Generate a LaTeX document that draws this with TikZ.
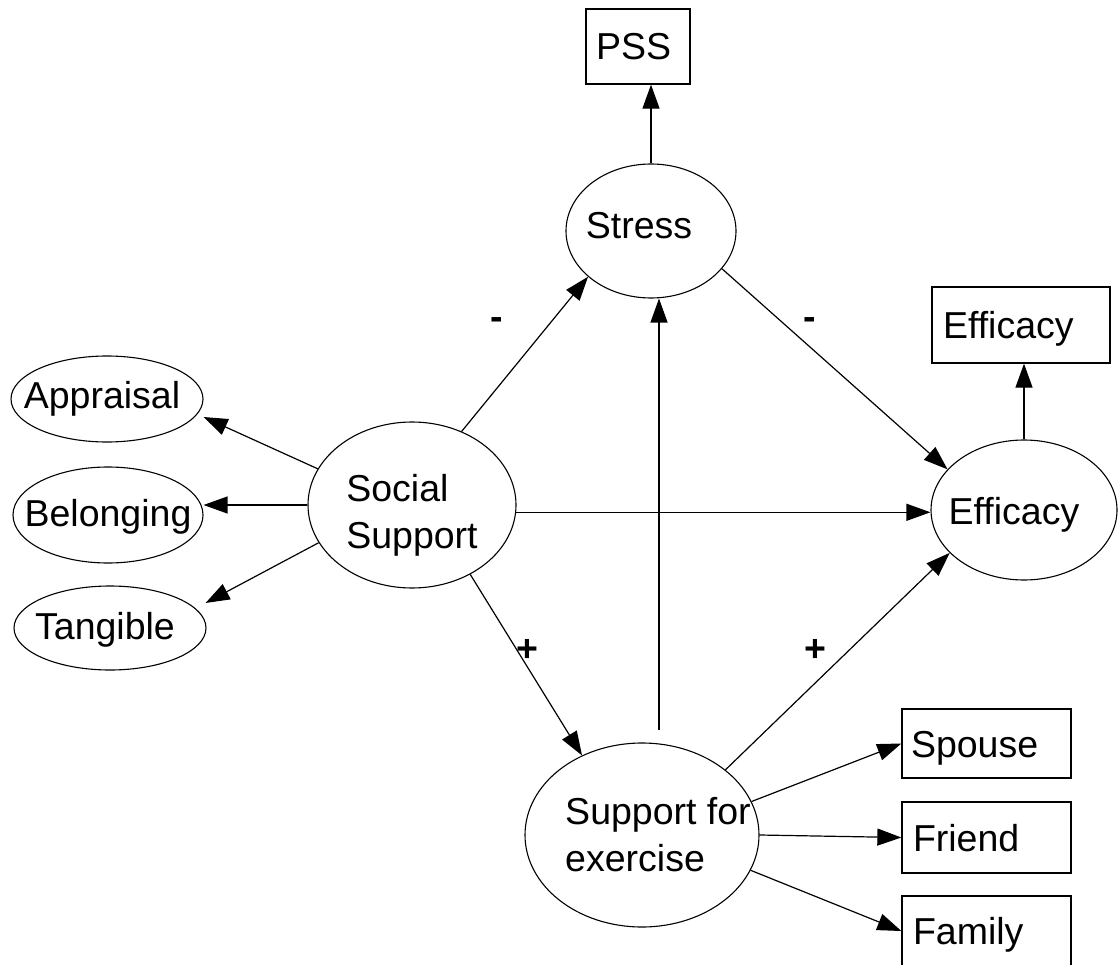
\documentclass[tikz,border=0pt]{standalone}
\usepackage{fontspec}
\setmainfont{Liberation Sans}
\usetikzlibrary{shapes.geometric,arrows.meta,calc}
\begin{document}
\begin{tikzpicture}[x=1pt,y=-1pt,
  txt/.style={font=\fontsize{37.5}{47}\selectfont},
  latent/.style={ellipse,draw,line width=1.1pt,inner sep=0pt},
  observed/.style={rectangle,draw,line width=1.3pt,txt,align=left,
    text height=27pt,text depth=0pt},
  arr/.style={-{Triangle[length=24pt,width=17pt]},line width=1.2pt},
  sign/.style={font=\fontsize{37.5}{47}\selectfont\bfseries,inner sep=0pt}]
\useasboundingbox (0,0) rectangle (1118,965);

% latent variables (ellipses) with their captions set as centre labels
\node[latent,minimum width=208pt,minimum height=166pt,
  label={[txt,align=left,inner sep=0pt,yshift=-10pt]center:{Social\\Support}}] (ss) at (412,505) {};
\node[latent,minimum width=170pt,minimum height=134pt,
  label={[txt,inner sep=0pt,xshift=-12pt,yshift=5pt]center:Stress}] (stress) at (651,231) {};
\node[latent,minimum width=186pt,minimum height=140pt,
  label={[txt,inner sep=0pt,xshift=-10pt,yshift=-5pt]center:Efficacy}] (eff) at (1024,510) {};
\node[latent,minimum width=234pt,minimum height=184pt,
  label={[txt,align=left,inner sep=0pt,xshift=16pt]center:{Support for\\exercise}}] (sup) at (642,835) {};
\node[latent,minimum width=192pt,minimum height=86pt,
  label={[txt,inner sep=0pt,xshift=-5pt]center:Appraisal}] (app) at (107,399) {};
\node[latent,minimum width=190pt,minimum height=96pt,
  label={[txt,inner sep=0pt,yshift=-2pt]center:Belonging}] (bel) at (108,515) {};
\node[latent,minimum width=192pt,minimum height=84pt,
  label={[txt,inner sep=0pt,xshift=-5pt,yshift=-2pt]center:Tangible}] (tan) at (110,628) {};

% observed indicators (boxes)
\node[observed,minimum height=75pt,text width=84pt,inner xsep=10pt] (pss) at (638,46.5) {PSS};
\node[observed,minimum height=76pt,text width=156pt,inner xsep=11pt] (effbox) at (1021,325) {Efficacy};
\node[observed,minimum height=69pt,text width=151pt,inner xsep=9pt] (spouse) at (986.5,743.5) {Spouse};
\node[observed,minimum height=71pt,text width=147pt,inner xsep=11pt] (friend) at (986.5,837.5) {Friend};
\node[observed,minimum height=70pt,text width=147pt,inner xsep=11pt] (family) at (986.5,931) {Family};

% measurement paths
\draw[arr] (stress.north) -- (stress.north |- pss.south);
\draw[arr] (eff.north) -- (eff.north |- effbox.south);
\draw[arr] (ss.159.6) -- ($(app.east)+(0,18)$);
\draw[arr] (ss.west) -- (ss.west -| bel.east);
\draw[arr] (ss.202) -- ($(tan.east)+(-1,-25)$);
\draw[arr] (sup.17.5) -- (spouse.west);
\draw[arr] (sup.east) -- (friend.west);
\draw[arr] (sup.-18.6) -- (family.west);

% structural paths
\draw[arr] (ss.56.7) -- (stress.216.7);
\draw[arr] (stress.-28.8) -- (eff.152.5);
\draw[arr] (ss.-4) -- (ss.-4 -| eff.west);
\draw[arr] (ss.-50.4) -- (sup.127);
\draw[arr] (sup.38.3) -- (eff.210.6);
\coordinate (vbase) at (659,730);
\draw[arr] (vbase) -- (vbase |- stress.south);

% signs of the paths
\node[sign] (m1) at (497,324) {-};
\node[sign] (m2) at (810,324) {-};
\node[sign] (p1) at (527,650) {+};
\node[sign] (p2) at (815,650) {+};
\end{tikzpicture}
\end{document}
